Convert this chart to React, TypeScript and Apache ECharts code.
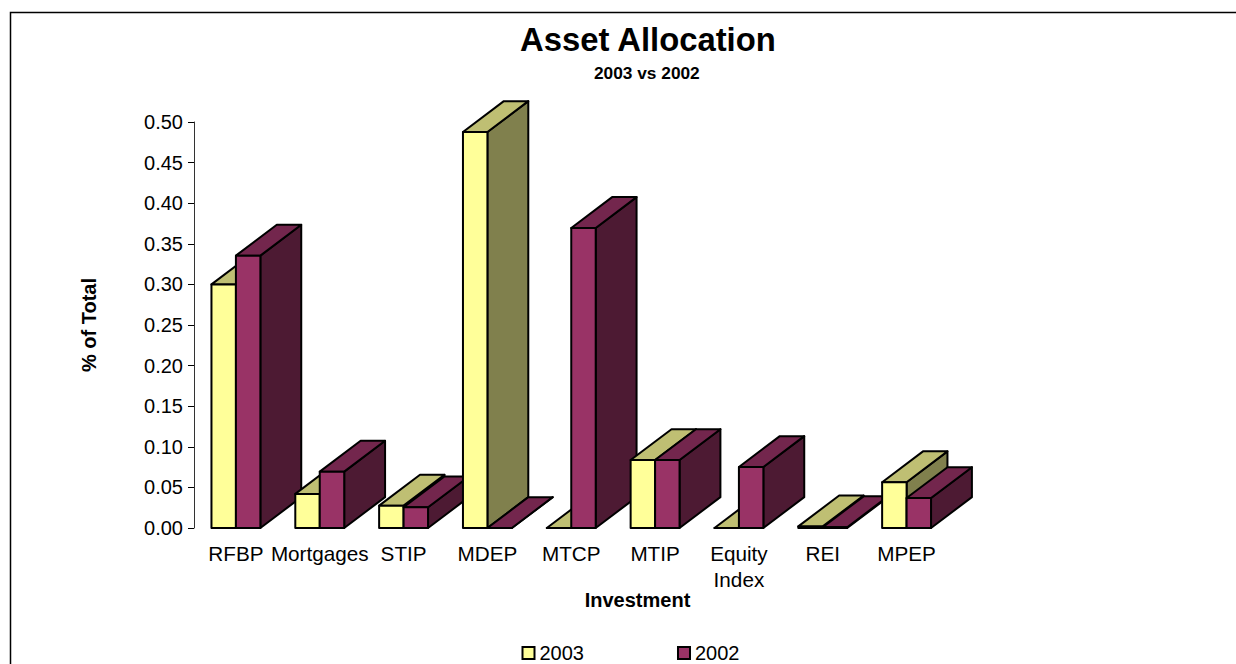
import React, { useEffect, useRef } from "react";
import * as echarts from "echarts";

const categories = ["RFBP", "Mortgages", "STIP", "MDEP", "MTCP", "MTIP", "Equity\nIndex", "REI", "MPEP"];
const values2003 = [0.3, 0.042, 0.0275, 0.4877, 0, 0.0837, 0, 0.002, 0.0564];
const values2002 = [0.3354, 0.0694, 0.0255, 0, 0.3695, 0.0837, 0.0751, 0.001, 0.0369];
const seriesNames = ["2003", "2002"];
const fills = [
  { front: "#FFFF99", top: "#BFBF73", side: "#80804D" },
  { front: "#993366", top: "#73264D", side: "#4D1A33" },
];
const FONT = "Liberation Sans";

function bar3d(seriesIdx: number) {
  return (_params: any, api: any) => {
    const cat = api.value(0);
    const val = api.value(1);
    const top = api.coord([cat, val]);
    const base = api.coord([cat, 0]);
    const band = api.size([1, 0])[0];
    const w = band * 0.2917;
    const dx = band * 0.4875;
    const dy = dx * 0.755;
    const x0 = base[0] - w + seriesIdx * w;
    const x1 = x0 + w;
    const yt = top[1];
    const yb = base[1];
    const c = fills[seriesIdx];
    const z = cat * 10 + seriesIdx * 4;
    const style = (fill: string) => ({ fill, stroke: "#000", lineWidth: 2, lineJoin: "round" });
    return {
      type: "group",
      children: [
        {
          type: "polygon",
          z2: z + 1,
          shape: { points: [[x1, yt], [x1 + dx, yt - dy], [x1 + dx, yb - dy], [x1, yb]] },
          style: style(c.side),
        },
        {
          type: "polygon",
          z2: z + 2,
          shape: { points: [[x0, yt], [x0 + dx, yt - dy], [x1 + dx, yt - dy], [x1, yt]] },
          style: style(c.top),
        },
        {
          type: "polygon",
          z2: z + 3,
          shape: { points: [[x0, yb], [x0, yt], [x1, yt], [x1, yb]] },
          style: style(c.front),
        },
      ],
    };
  };
}

export default function App() {
  const ref = useRef<HTMLDivElement>(null);
  useEffect(() => {
    document.body.style.margin = "0";
    const chart = echarts.init(ref.current!, null, { renderer: "svg" });
    const makeSeries = (i: number, vals: number[]) => ({
      type: "custom",
      name: seriesNames[i],
      coordinateSystem: "cartesian2d",
      clip: false,
      renderItem: bar3d(i),
      encode: { x: 0, y: 1 },
      itemStyle: { color: fills[i].front, borderColor: "#000", borderWidth: 2 },
      data: vals.map((v, k) => [k, v]),
    });
    chart.setOption({
      animation: false,
      backgroundColor: "#fff",
      textStyle: { fontFamily: FONT },
      title: [
        {
          text: "Asset Allocation",
          left: 520,
          top: 23,
          padding: 0,
          textStyle: { fontFamily: FONT, fontSize: 32.8, fontWeight: "bold", color: "#000" },
        },
        {
          text: "2003 vs 2002",
          left: 594,
          top: 64,
          padding: 0,
          textStyle: { fontFamily: FONT, fontSize: 17.3, fontWeight: "bold", color: "#000" },
        },
      ],
      legend: {
        left: 521.5,
        top: 643,
        padding: 0,
        itemWidth: 12,
        itemHeight: 12,
        itemGap: 93,
        icon: "rect",
        data: seriesNames,
        selectedMode: false,
        textStyle: { fontFamily: FONT, fontSize: 20, color: "#000" },
      },
      grid: { left: 194, top: 122, width: 754.5, height: 406, containLabel: false },
      xAxis: {
        type: "category",
        data: categories,
        axisLine: { show: false },
        axisTick: { show: false },
        splitLine: { show: false },
        axisLabel: {
          interval: 0,
          fontFamily: FONT,
          fontSize: 20.7,
          lineHeight: 26,
          margin: 12,
          color: "#000",
        },
      },
      yAxis: {
        type: "value",
        min: 0,
        max: 0.5,
        interval: 0.05,
        name: "% of Total",
        nameLocation: "middle",
        nameGap: 95,
        nameRotate: 90,
        nameTextStyle: { fontFamily: FONT, fontSize: 20, fontWeight: "bold", color: "#000" },
        splitLine: { show: false },
        axisLine: { show: true, lineStyle: { color: "#333", width: 1 } },
        axisTick: { show: true, length: 6, lineStyle: { color: "#000", width: 1 } },
        axisLabel: {
          fontFamily: FONT,
          fontSize: 20,
          margin: 11,
          color: "#000",
          formatter: (v: number) => v.toFixed(2),
        },
      },
      graphic: [
        {
          type: "rect",
          silent: true,
          z: -1,
          shape: { x: 10.5, y: 12.5, width: 1400, height: 800 },
          style: { fill: "none", stroke: "#000", lineWidth: 1.5 },
        },
        {
          type: "text",
          x: 637.5,
          y: 600,
          style: {
            text: "Investment",
            fontFamily: FONT,
            fontSize: 20,
            fontWeight: "bold",
            fill: "#000",
            align: "center",
            verticalAlign: "middle",
          },
        },
      ],
      series: [makeSeries(0, values2003), makeSeries(1, values2002)],
    });
    return () => chart.dispose();
  }, []);
  return <div ref={ref} style={{ width: 1236, height: 664 }} />;
}
